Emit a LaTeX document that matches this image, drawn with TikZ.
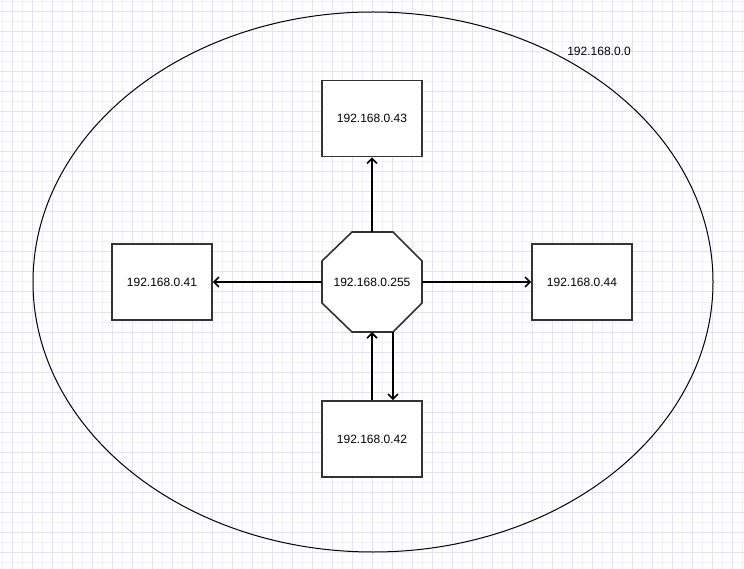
\documentclass[tikz,border=0pt]{standalone}
\usepackage{fontspec}
\setmainfont{Liberation Sans}
\usetikzlibrary{arrows.meta}
\definecolor{gridminor}{HTML}{F0F0FC}
\definecolor{gridmajor}{HTML}{E2E2F8}
\definecolor{edge}{HTML}{333333}
\tikzset{
  host/.style={draw=edge, line width=1.6pt, fill=white, minimum width=100pt, minimum height=76pt, inner sep=0pt, font=\fontsize{12}{14}\selectfont},
  link/.style={draw=black, line width=2pt, -{Straight Barb[length=5pt,width=10pt,line width=1.6pt]}},
  lbl/.style={font=\fontsize{12}{14}\selectfont, inner sep=0pt}
}
\begin{document}
\begin{tikzpicture}[x=1pt,y=-1pt]
\useasboundingbox (0,0) rectangle (744,569);
\fill[white] (0,0) rectangle (744,569);
\foreach \i in {2,12,...,742} \draw[gridminor, line width=1pt] (\i,0) -- (\i,569);
\foreach \j in {2,12,...,562} \draw[gridminor, line width=1pt] (0,\j) -- (744,\j);
\foreach \i in {12,32,...,742} \draw[gridmajor, line width=1pt] (\i,0) -- (\i,569);
\foreach \j in {12,32,...,562} \draw[gridmajor, line width=1pt] (0,\j) -- (744,\j);
% network ellipse
\draw[black, line width=1pt] (373,282) ellipse [x radius=340, y radius=270];
\node[lbl] (net) at (599,51) {192.168.0.0};
% hosts
\node[host] (h43) at (372,118.5) {192.168.0.43};
\node[host] (h41) at (162,282) {192.168.0.41};
\node[host] (h44) at (582,282) {192.168.0.44};
\node[host] (h42) at (372,439) {192.168.0.42};
% broadcast octagon
\coordinate (bc) at (372,282);
\draw[edge, line width=1.6pt, fill=white] (352,232) -- (393,232) -- (422,261) -- (422,303) -- (393,332) -- (352,332) -- (322,303) -- (322,261) -- cycle;
\node[lbl] (b) at (bc) {192.168.0.255};
\coordinate (btop) at (372,232);
\coordinate (bleft) at (322,282);
\coordinate (bright) at (422,282);
\coordinate (bbotA) at (372,332);
\coordinate (bbotB) at (393,332);
\draw[link] (btop) -- (h43.south);
\draw[link] (bleft) -- (h41.east);
\draw[link] (bright) -- (h44.west);
\draw[link] (h42.north) -- (bbotA);
\draw[link] (bbotB) -- (bbotB |- h42.north);
\end{tikzpicture}
\end{document}
